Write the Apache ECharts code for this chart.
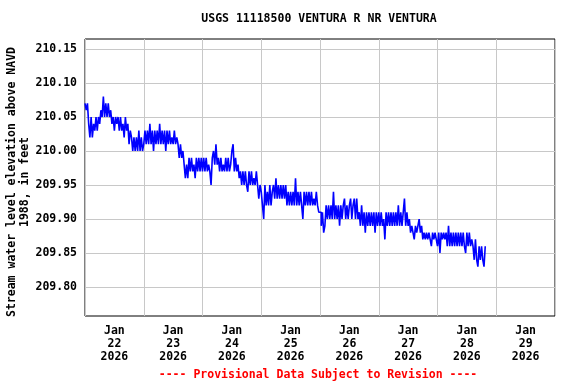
<!DOCTYPE html>
<html>
<head>
<meta charset="utf-8">
<script src="https://cdn.jsdelivr.net/npm/echarts@6/dist/echarts.min.js"></script>
<style>
html,body{margin:0;padding:0;background:#fff;}
#chart{width:576px;height:384px;}
</style>
</head>
<body>
<div id="chart"></div>
<script>
// 30-minute readings (feet), one array per day starting at midnight
const jan22 = [210.07,210.06,210.07,210.04,210.02,210.05,210.02,210.04,210.03,210.05,210.03,210.05,210.04,210.06,210.05,210.08,
  210.05,210.07,210.05,210.07,210.05,210.06,210.04,210.05,210.03,210.05,210.04,210.05,210.03,210.05,210.03,210.04,
  210.02,210.05,210.03,210.04,210.01,210.03,210.02,210.00,210.02,210.00,210.02,210.00,210.03,210.00,210.02,210.00];
const jan23 = [210.01,210.03,210.01,210.03,210.01,210.04,210.01,210.03,210.00,210.03,210.01,210.03,210.01,210.04,210.01,210.03,
  210.01,210.03,210.00,210.03,210.01,210.03,210.01,210.02,210.01,210.03,210.01,210.02,210.01,209.99,210.01,209.99,
  210.00,209.98,209.96,209.98,209.96,209.99,209.97,209.99,209.97,209.98,209.96,209.99,209.97,209.99,209.97,209.99];
const jan24 = [209.97,209.99,209.97,209.99,209.97,209.98,209.97,209.95,209.99,210.00,209.98,210.01,209.98,209.99,209.97,209.99,
  209.97,209.98,209.97,209.99,209.97,209.99,209.97,209.98,210.00,210.01,209.97,209.99,209.97,209.98,209.96,209.97,
  209.95,209.97,209.95,209.97,209.95,209.94,209.97,209.95,209.97,209.95,209.96,209.95,209.97,209.95,209.93,209.95];
const jan25 = [209.94,209.92,209.90,209.95,209.92,209.94,209.92,209.95,209.92,209.94,209.95,209.93,209.96,209.93,209.95,209.93,
  209.95,209.93,209.95,209.93,209.95,209.92,209.94,209.92,209.94,209.92,209.94,209.92,209.96,209.92,209.94,209.92,
  209.94,209.92,209.90,209.94,209.92,209.94,209.92,209.94,209.92,209.94,209.92,209.93,209.92,209.94,209.92,209.91];
const jan26 = [209.91,209.89,209.91,209.88,209.89,209.92,209.90,209.92,209.90,209.92,209.90,209.94,209.90,209.92,209.90,209.92,
  209.89,209.92,209.90,209.92,209.93,209.90,209.92,209.90,209.92,209.93,209.90,209.92,209.93,209.90,209.93,209.90,
  209.91,209.89,209.92,209.89,209.91,209.88,209.91,209.89,209.91,209.89,209.91,209.89,209.91,209.88,209.91,209.89];
const jan27 = [209.91,209.89,209.91,209.89,209.90,209.87,209.91,209.89,209.91,209.89,209.91,209.89,209.91,209.89,209.91,209.89,
  209.92,209.89,209.91,209.89,209.91,209.93,209.89,209.91,209.89,209.90,209.88,209.89,209.88,209.87,209.89,209.88,
  209.89,209.90,209.88,209.89,209.87,209.88,209.87,209.88,209.87,209.88,209.87,209.86,209.88,209.87,209.88,209.87];
const jan28 = [209.86,209.88,209.85,209.88,209.87,209.88,209.87,209.88,209.86,209.89,209.86,209.88,209.86,209.88,209.86,209.88,
  209.86,209.88,209.86,209.88,209.86,209.88,209.86,209.85,209.88,209.86,209.88,209.86,209.87,209.86,209.84,209.87,
  209.84,209.83,209.86,209.84,209.86,209.84,209.83,209.86];
const days = [jan22, jan23, jan24, jan25, jan26, jan27, jan28];
const xTickLabels = ['Jan\n22\n2026','Jan\n23\n2026','Jan\n24\n2026','Jan\n25\n2026',
  'Jan\n26\n2026','Jan\n27\n2026','Jan\n28\n2026','Jan\n29\n2026'];
const yTickMin = 209.80, yTickMax = 210.15, yTickStep = 0.05;

const seriesData = [];
days.forEach((arr, d) => arr.forEach((v, i) => seriesData.push([d + i / 48, v])));

const FONT = 'DejaVu Sans Mono';
const labelStyle = {color: '#000', fontFamily: FONT, fontWeight: 'bold', fontSize: 11.5};
const chart = echarts.init(document.getElementById('chart'), null, {renderer: 'canvas'});
chart.setOption({
  animation: false,
  backgroundColor: '#ffffff',
  grid: [
    {left: 85, top: 39, width: 470, height: 277, show: true, borderColor: '#000', borderWidth: 1,
     backgroundColor: 'transparent', containLabel: false, outerBoundsMode: 'none'},
    {left: 85, top: 49, width: 470, height: 238, show: false, containLabel: false, outerBoundsMode: 'none'}
  ],
  xAxis: [{
    gridIndex: 0, type: 'value', min: 0, max: 8, interval: 1,
    axisLine: {show: false}, axisTick: {show: false}, axisLabel: {show: false},
    splitLine: {show: true, lineStyle: {color: '#c8c8c8', width: 1}}
  }, {
    gridIndex: 0, type: 'value', min: 0, max: 16, interval: 1, position: 'bottom',
    axisLine: {show: false}, axisTick: {show: false}, splitLine: {show: false},
    axisLabel: Object.assign({show: true, margin: 9, lineHeight: 13,
      formatter: v => (v % 2 === 1 ? xTickLabels[(v - 1) / 2] : '')}, labelStyle)
  }, {
    gridIndex: 1, type: 'value', min: 0, max: 1, show: false
  }],
  yAxis: [{
    gridIndex: 0, type: 'value', min: 209.7574, max: 210.1647,
    axisLine: {show: false}, axisTick: {show: false}, axisLabel: {show: false}, splitLine: {show: false},
    name: 'Stream water level elevation above NAVD\n1988, in feet',
    nameLocation: 'middle', nameRotate: 90, nameGap: 53,
    nameTextStyle: Object.assign({lineHeight: 13, align: 'center', padding: [0, 9, 0, 0]}, labelStyle)
  }, {
    gridIndex: 1, type: 'value', min: yTickMin, max: yTickMax, interval: yTickStep,
    axisLine: {show: false}, axisTick: {show: false},
    splitLine: {show: true, lineStyle: {color: '#c8c8c8', width: 1}},
    axisLabel: Object.assign({margin: 8, formatter: v => v.toFixed(2)}, labelStyle)
  }],
  series: [{
    type: 'line', xAxisIndex: 0, yAxisIndex: 0, data: seriesData, showSymbol: false, step: 'end',
    lineStyle: {color: '#0000ff', width: 1.6}
  }],
  graphic: [{
    type: 'text', x: 319, y: 19,
    style: {text: 'USGS 11118500 VENTURA R NR VENTURA', fill: '#000', font: 'bold 11.5px "DejaVu Sans Mono"', textAlign: 'center', textVerticalAlign: 'middle'}
  }, {
    type: 'text', x: 318, y: 375,
    style: {text: '---- Provisional Data Subject to Revision ----', fill: '#ff0000', font: 'bold 11.5px "DejaVu Sans Mono"', textAlign: 'center', textVerticalAlign: 'middle'}
  }]
});
</script>
</body>
</html>
